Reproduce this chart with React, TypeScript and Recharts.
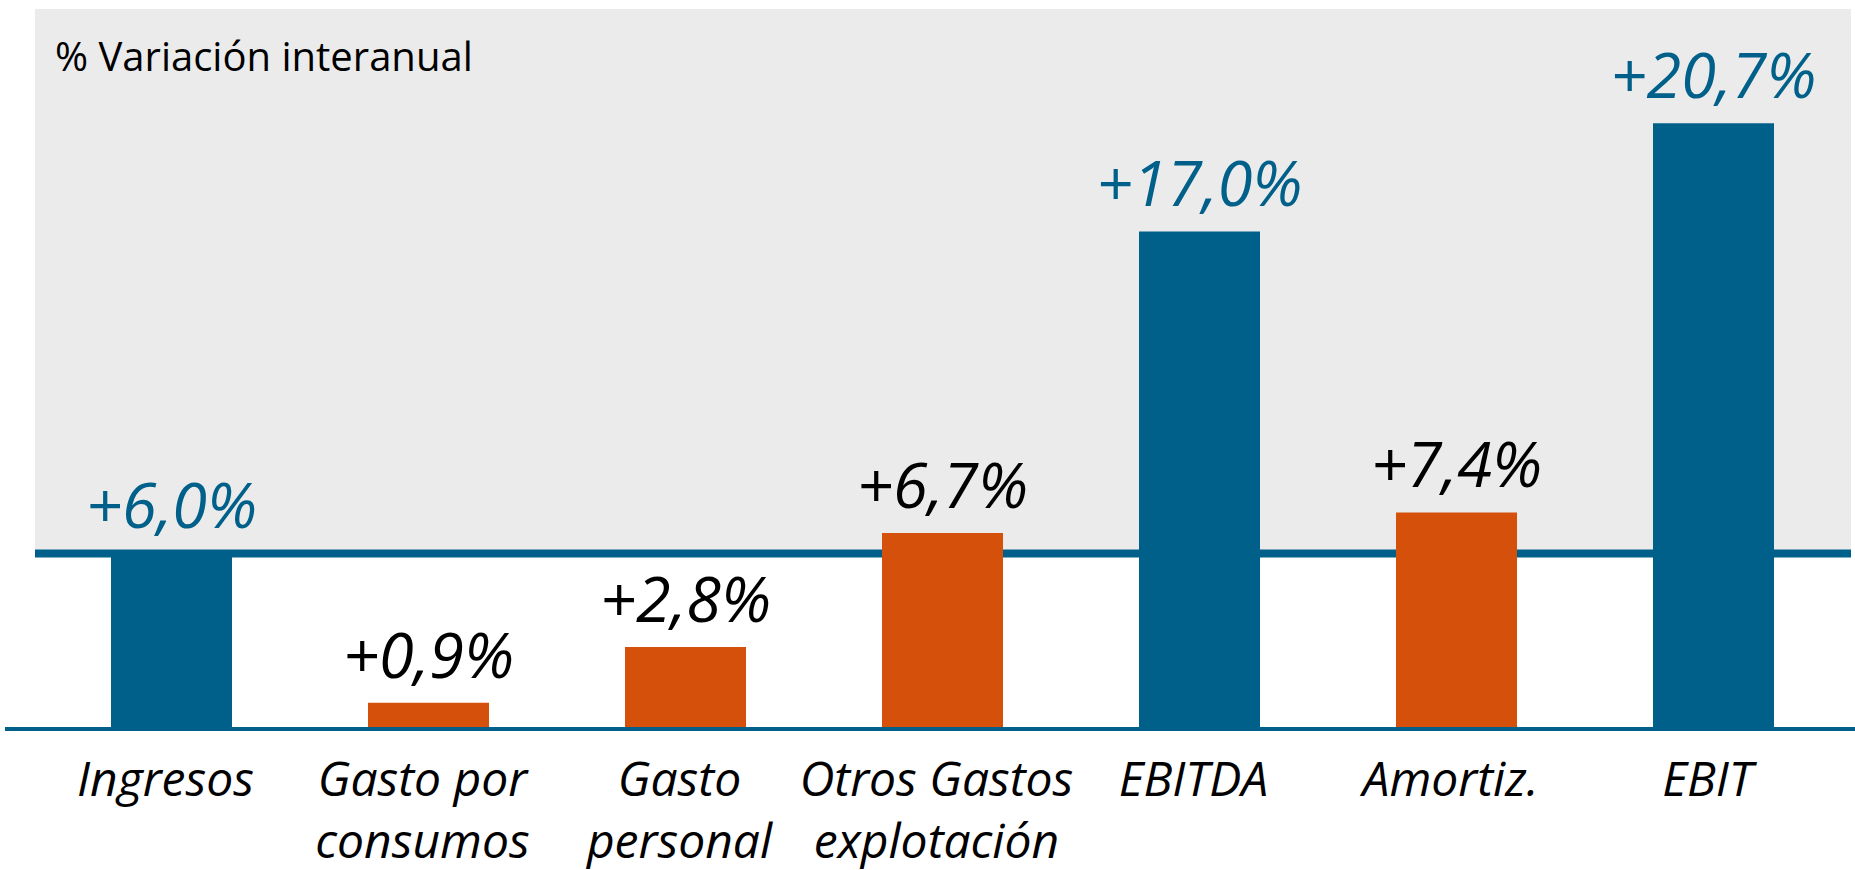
import React from 'react'
import { Bar, BarChart, Cell, ReferenceArea, ReferenceLine, XAxis, YAxis } from 'recharts'

// categories and year-on-year variation (%)
const categories = ['Ingresos', 'Gasto por consumos', 'Gasto personal', 'Otros Gastos explotación', 'EBITDA', 'Amortiz.', 'EBIT']
const tickLines = [['Ingresos'], ['Gasto por', 'consumos'], ['Gasto', 'personal'], ['Otros Gastos', 'explotación'], ['EBITDA'], ['Amortiz.'], ['EBIT']]
const variation = [6.0, 0.9, 2.8, 6.7, 17.0, 7.4, 20.7]
const isCost = [false, true, true, true, false, true, false]
const reference = 6.0 // Ingresos level, drawn as the horizontal line

const BLUE = '#00608A'
const ORANGE = '#D4500B'
const FONT = '"Open Sans", sans-serif'

const data = categories.map((name, i) => ({ name, value: variation[i] }))

const fmt = (v: number) => '+' + v.toFixed(1).replace('.', ',') + '%'

const Tick = (props: any) => {
  const { x, y, index } = props
  const lines = tickLines[index] || []
  return (
    <text x={x - 6} y={y + 65} textAnchor="middle" fontFamily={FONT} fontStyle="italic" fontSize={48} fill="#000">
      {lines.map((l: string, i: number) => (
        <tspan key={i} x={x - 6} dy={i === 0 ? 0 : 62}>{l}</tspan>
      ))}
    </text>
  )
}

const ValueLabel = (props: any) => {
  const { x, y, width, index, value } = props
  return (
    <text
      x={x + width / 2}
      y={y - 25}
      textAnchor="middle"
      fontFamily={FONT}
      fontStyle="italic"
      fontSize={63}
      fill={isCost[index] ? '#000' : BLUE}
    >
      {fmt(value)}
    </text>
  )
}

export default function App() {
  return (
    <div style={{ position: 'absolute', left: 0, top: 0, width: 1855, height: 870, background: '#fff' }}>
      <BarChart width={1855} height={870} data={data} margin={{ top: 9, right: 0, left: 5, bottom: 0 }}>
        <YAxis hide domain={[0, 24.6]} />
        <XAxis
          dataKey="name"
          interval={0}
          height={141}
          tickSize={0}
          tickLine={false}
          axisLine={{ stroke: BLUE, strokeWidth: 4 }}
          padding={{ left: 38, right: 13 }}
          tick={<Tick />}
        />
        <ReferenceArea
          y1={reference}
          y2={24.6}
          zIndex={50}
          shape={(p: any) => <rect x={p.x - 8} y={p.y} width={p.width + 17} height={p.height} fill="#EBEBEB" />}
        />
        <ReferenceLine
          y={reference}
          zIndex={60}
          shape={(p: any) => (
            <line
              x1={Math.min(p.x1, p.x2) + 30}
              x2={Math.max(p.x1, p.x2) - 4}
              y1={p.y1}
              y2={p.y2}
              stroke={BLUE}
              strokeWidth={8}
            />
          )}
        />
        <Bar dataKey="value" barSize={121} isAnimationActive={false} label={<ValueLabel />}>
          {data.map((d, i) => (
            <Cell key={d.name} fill={isCost[i] ? ORANGE : BLUE} />
          ))}
        </Bar>
      </BarChart>
      <svg width={600} height={100} style={{ position: 'absolute', left: 0, top: 0 }}>
        <text x={55} y={71} fontFamily={FONT} fontSize={40} fill="#000">% Variación interanual</text>
      </svg>
    </div>
  )
}
